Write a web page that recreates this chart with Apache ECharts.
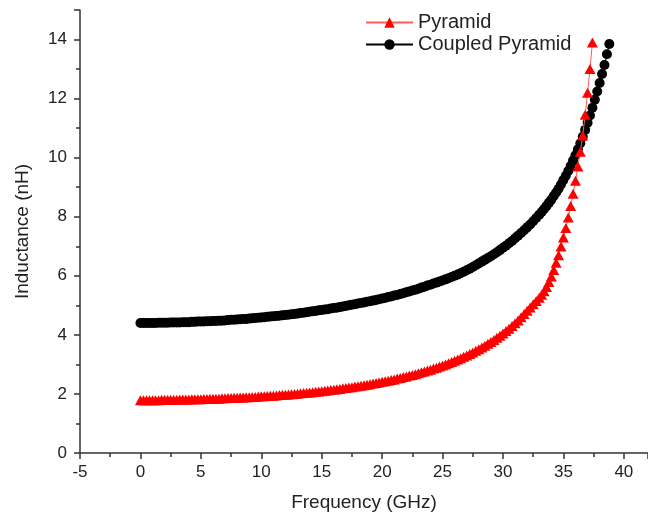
<!DOCTYPE html>
<html lang="en">
<head>
    <meta charset="utf-8">
    <title>Inductance vs Frequency</title>
    <script src="https://cdn.jsdelivr.net/npm/echarts@6/dist/echarts.min.js"></script>
</head>
<body style="margin:0; background:#fff;">
    <div id="chart" style="width:648px; height:522px;"></div>

<script type="text/javascript">
// Pyramid (red triangles): frequency in GHz, inductance in nH
var pyramidFreq = [
    0.00, 0.25, 0.50, 0.75, 1.00, 1.25, 1.50, 1.75, 2.00, 2.25, 2.50, 2.75, 3.00, 3.25, 3.50, 3.75,
    4.00, 4.25, 4.50, 4.75, 5.00, 5.25, 5.50, 5.75, 6.00, 6.25, 6.50, 6.75, 7.00, 7.25, 7.50, 7.75,
    8.00, 8.25, 8.50, 8.75, 9.00, 9.25, 9.50, 9.75, 10.00, 10.25, 10.50, 10.75, 11.00, 11.25, 11.50, 11.75,
    12.00, 12.25, 12.50, 12.75, 13.00, 13.25, 13.50, 13.75, 14.00, 14.25, 14.50, 14.75, 15.00, 15.25, 15.50, 15.75,
    16.00, 16.25, 16.50, 16.75, 17.00, 17.25, 17.50, 17.75, 18.00, 18.25, 18.50, 18.75, 19.00, 19.25, 19.50, 19.75,
    20.00, 20.25, 20.50, 20.75, 21.00, 21.25, 21.50, 21.75, 22.00, 22.25, 22.50, 22.75, 23.00, 23.25, 23.50, 23.75,
    24.00, 24.25, 24.50, 24.75, 25.00, 25.25, 25.50, 25.75, 26.00, 26.25, 26.50, 26.75, 27.00, 27.25, 27.50, 27.75,
    28.00, 28.25, 28.50, 28.75, 29.00, 29.25, 29.50, 29.75, 30.00, 30.25, 30.50, 30.75, 31.00, 31.25, 31.50, 31.75,
    32.00, 32.25, 32.50, 32.75, 33.00,
    33.2, 33.4, 33.6, 33.8, 34.0, 34.2, 34.4, 34.6, 34.8, 35.0, 35.2, 35.4, 35.6, 35.8, 36.0, 36.2, 36.4, 36.6, 36.8, 37.0, 37.2, 37.4
];
var pyramidL = [
    1.79, 1.79, 1.79, 1.79, 1.79, 1.79, 1.79, 1.80, 1.80, 1.80, 1.80, 1.80, 1.80, 1.81, 1.81, 1.81,
    1.81, 1.82, 1.82, 1.82, 1.82, 1.83, 1.83, 1.84, 1.84, 1.84, 1.84, 1.85, 1.85, 1.86, 1.86, 1.87,
    1.87, 1.88, 1.88, 1.89, 1.89, 1.90, 1.90, 1.91, 1.92, 1.92, 1.93, 1.94, 1.94, 1.95, 1.96, 1.97,
    1.97, 1.98, 1.99, 2.00, 2.01, 2.02, 2.03, 2.04, 2.05, 2.06, 2.07, 2.08, 2.09, 2.11, 2.12, 2.13,
    2.14, 2.16, 2.17, 2.19, 2.20, 2.22, 2.23, 2.25, 2.26, 2.28, 2.29, 2.31, 2.33, 2.35, 2.37, 2.39,
    2.41, 2.43, 2.45, 2.47, 2.49, 2.52, 2.54, 2.57, 2.59, 2.62, 2.64, 2.67, 2.70, 2.73, 2.76, 2.79,
    2.82, 2.86, 2.89, 2.93, 2.96, 3.00, 3.04, 3.08, 3.12, 3.17, 3.21, 3.26, 3.30, 3.35, 3.40, 3.46,
    3.51, 3.57, 3.63, 3.70, 3.76, 3.83, 3.90, 3.97, 4.05, 4.13, 4.21, 4.30, 4.39, 4.49, 4.60, 4.71,
    4.82, 4.93, 5.04, 5.15, 5.26,
    5.36, 5.48, 5.62, 5.79, 5.98, 6.20, 6.44, 6.70, 6.99, 7.30, 7.62, 7.97, 8.36, 8.78, 9.22, 9.70, 10.20, 10.75, 11.45, 12.20, 13.00, 13.90
];

// Coupled Pyramid (black circles)
var coupledFreq = [
    0.00, 0.25, 0.50, 0.75, 1.00, 1.25, 1.50, 1.75, 2.00, 2.25, 2.50, 2.75, 3.00, 3.25, 3.50, 3.75,
    4.00, 4.25, 4.50, 4.75, 5.00, 5.25, 5.50, 5.75, 6.00, 6.25, 6.50, 6.75, 7.00, 7.25, 7.50, 7.75,
    8.00, 8.25, 8.50, 8.75, 9.00, 9.25, 9.50, 9.75, 10.00, 10.25, 10.50, 10.75, 11.00, 11.25, 11.50, 11.75,
    12.00, 12.25, 12.50, 12.75, 13.00, 13.25, 13.50, 13.75, 14.00, 14.25, 14.50, 14.75, 15.00, 15.25, 15.50, 15.75,
    16.00, 16.25, 16.50, 16.75, 17.00, 17.25, 17.50, 17.75, 18.00, 18.25, 18.50, 18.75, 19.00, 19.25, 19.50, 19.75,
    20.00, 20.25, 20.50, 20.75, 21.00, 21.25, 21.50, 21.75, 22.00, 22.25, 22.50, 22.75, 23.00, 23.25, 23.50, 23.75,
    24.00, 24.25, 24.50, 24.75, 25.00, 25.25, 25.50, 25.75, 26.00, 26.25, 26.50, 26.75, 27.00, 27.25, 27.50, 27.75,
    28.00, 28.25, 28.50, 28.75, 29.00, 29.25, 29.50, 29.75, 30.00, 30.25, 30.50, 30.75, 31.00, 31.25, 31.50, 31.75,
    32.00, 32.25, 32.50, 32.75, 33.00,
    33.2, 33.4, 33.6, 33.8, 34.0, 34.2, 34.4, 34.6, 34.8, 35.0, 35.2, 35.4, 35.6, 35.8, 36.0, 36.2, 36.4, 36.6, 36.8,
    37.0, 37.2, 37.4, 37.6, 37.8, 38.0, 38.2, 38.4, 38.6, 38.8
];
var coupledL = [
    4.40, 4.40, 4.40, 4.40, 4.40, 4.40, 4.41, 4.41, 4.41, 4.41, 4.42, 4.42, 4.42, 4.42, 4.43, 4.43,
    4.43, 4.44, 4.44, 4.45, 4.45, 4.45, 4.46, 4.46, 4.47, 4.47, 4.48, 4.48, 4.49, 4.50, 4.51, 4.51,
    4.52, 4.53, 4.54, 4.54, 4.55, 4.56, 4.57, 4.58, 4.59, 4.60, 4.61, 4.62, 4.63, 4.64, 4.65, 4.66,
    4.67, 4.68, 4.70, 4.71, 4.72, 4.74, 4.75, 4.77, 4.78, 4.80, 4.81, 4.83, 4.84, 4.86, 4.87, 4.89,
    4.91, 4.92, 4.94, 4.96, 4.98, 5.00, 5.02, 5.04, 5.06, 5.08, 5.10, 5.12, 5.14, 5.16, 5.18, 5.21,
    5.23, 5.25, 5.28, 5.30, 5.33, 5.35, 5.38, 5.41, 5.44, 5.47, 5.50, 5.53, 5.56, 5.60, 5.63, 5.67,
    5.70, 5.74, 5.77, 5.81, 5.84, 5.88, 5.92, 5.96, 6.00, 6.04, 6.09, 6.14, 6.19, 6.24, 6.30, 6.36,
    6.42, 6.48, 6.54, 6.60, 6.66, 6.73, 6.80, 6.87, 6.95, 7.02, 7.10, 7.18, 7.27, 7.36, 7.45, 7.54,
    7.64, 7.74, 7.85, 7.96, 8.07,
    8.16, 8.26, 8.36, 8.47, 8.58, 8.70, 8.82, 8.95, 9.09, 9.24, 9.39, 9.55, 9.72, 9.90, 10.08, 10.28, 10.49, 10.71, 10.94,
    11.18, 11.43, 11.69, 11.96, 12.24, 12.53, 12.83, 13.14, 13.50, 13.85
];

var seriesNames = ['Pyramid', 'Coupled Pyramid'];

function pairs(xs, ys) {
    var out = [];
    for (var i = 0; i < xs.length; i++) out.push([xs[i], ys[i]]);
    return out;
}

var myChart = echarts.init(document.getElementById('chart'), null, {renderer: 'canvas'});
var font = 'Liberation Sans, Arial, sans-serif';
var axisColor = '#333';

myChart.setOption({
    animation: false,
    backgroundColor: '#fff',
    textStyle: { fontFamily: font },
    grid: { left: 80, right: 0, top: 10, bottom: 69, containLabel: false },
    legend: {
        data: seriesNames,
        orient: 'vertical',
        left: 360,
        top: 7,
        itemWidth: 47,
        itemHeight: 13,
        itemGap: 1,
        textStyle: { fontSize: 20, color: '#222', fontFamily: font, lineHeight: 21 }
    },
    xAxis: {
        type: 'value',
        min: -5,
        max: 42,
        interval: 5,
        name: 'Frequency (GHz)',
        nameLocation: 'middle',
        nameGap: 40,
        nameTextStyle: { fontSize: 19, color: '#222' },
        axisLine: { lineStyle: { color: axisColor, width: 1.5 } },
        axisTick: { length: 6, lineStyle: { color: axisColor, width: 1.5 } },
        minorTick: { show: true, splitNumber: 2, length: 4, lineStyle: { color: axisColor, width: 1.5 } },
        axisLabel: { fontSize: 17, color: '#222', margin: 11, showMaxLabel: false },
        splitLine: { show: false }
    },
    yAxis: {
        type: 'value',
        min: 0,
        max: 15,
        interval: 2,
        name: 'Inductance (nH)',
        nameLocation: 'middle',
        nameGap: 48,
        nameTextStyle: { fontSize: 19, color: '#222' },
        axisLine: { onZero: false, lineStyle: { color: axisColor, width: 1.5 } },
        axisTick: { length: 6, lineStyle: { color: axisColor, width: 1.5 } },
        minorTick: { show: true, splitNumber: 2, length: 4, lineStyle: { color: axisColor, width: 1.5 } },
        axisLabel: { fontSize: 17, color: '#222', margin: 13, showMaxLabel: false },
        splitLine: { show: false }
    },
    series: [
        {
            name: 'Coupled Pyramid',
            type: 'line',
            data: pairs(coupledFreq, coupledL),
            symbol: 'circle',
            symbolSize: 10,
            showAllSymbol: true,
            itemStyle: { color: '#000' },
            lineStyle: { color: '#000', width: 1 },
            z: 2
        },
        {
            name: 'Pyramid',
            type: 'line',
            data: pairs(pyramidFreq, pyramidL),
            symbol: 'triangle',
            symbolSize: [11, 10],
            showAllSymbol: true,
            itemStyle: { color: '#ff0000' },
            lineStyle: { color: '#ff5a5a', width: 1 },
            z: 3
        }
    ]
});
</script>
</body>
</html>
